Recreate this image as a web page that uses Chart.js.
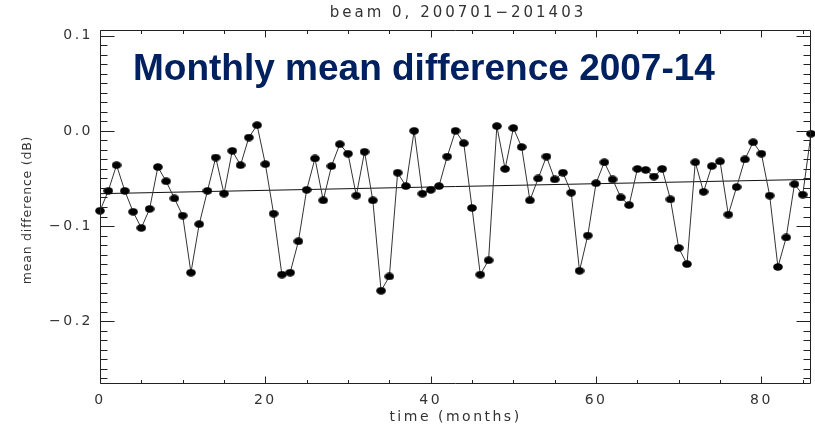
<!DOCTYPE html>
<html lang="en">
<head>
<meta charset="UTF-8">
<title>beam 0, 200701-201403</title>
<script src="https://cdn.jsdelivr.net/npm/chart.js"></script>
<style>
  html, body { margin: 0; padding: 0; background: #fff; }
  #chart { display: block; }
</style>
</head>
<body>
<canvas id="chart" width="815" height="428"></canvas>
<script>
// month index, 0 = January 2007, 86 = March 2014
const months = [
  0, 1, 2, 3, 4, 5, 6, 7, 8, 9, 10, 11, 12, 13, 14, 15, 16, 17, 18, 19,
  20, 21, 22, 23, 24, 25, 26, 27, 28, 29, 30, 31, 32, 33, 34, 35, 36, 37, 38, 39,
  40, 41, 42, 43, 44, 45, 46, 47, 48, 49, 50, 51, 52, 53, 54, 55, 56, 57, 58, 59,
  60, 61, 62, 63, 64, 65, 66, 67, 68, 69, 70, 71, 72, 73, 74, 75, 76, 77, 78, 79,
  80, 81, 82, 83, 84, 85, 86
];

// monthly mean difference (dB)
const meanDiff = [
  -0.084, -0.063, -0.036, -0.063, -0.085, -0.102, -0.082, -0.038, -0.053, -0.071,
  -0.089, -0.149, -0.098, -0.063, -0.028, -0.066, -0.021, -0.036, -0.007,  0.006,
  -0.035, -0.087, -0.151, -0.149, -0.116, -0.062, -0.029, -0.073, -0.037, -0.014,
  -0.024, -0.068, -0.022, -0.073, -0.168, -0.153, -0.044, -0.058,  0.000, -0.066,
  -0.062, -0.058, -0.027,  0.000, -0.013, -0.081, -0.151, -0.136,  0.005, -0.040,
   0.003, -0.017, -0.073, -0.050, -0.027, -0.051, -0.044, -0.065, -0.147, -0.110,
  -0.055, -0.033, -0.051, -0.070, -0.078, -0.040, -0.041, -0.048, -0.040, -0.072,
  -0.123, -0.140, -0.033, -0.064, -0.037, -0.032, -0.088, -0.059, -0.030, -0.012,
  -0.024, -0.068, -0.143, -0.112, -0.056, -0.067, -0.003
];

// linear trend, end points
const trendMonths = [0, 86];
const trendValues = [-0.066, -0.051];

const xTicks = [0, 20, 40, 60, 80];
const yTicks = [-0.2, -0.1, 0.0, 0.1];
const yTickLabels = ['\u22120.2', '\u22120.1', '0.0', '0.1'];

const FONT = 'DejaVu Sans';
const INK = '#333';

// filled ellipse marker, a bit wider than tall
const dot = document.createElement('canvas');
dot.width = 10;
dot.height = 8;
const dctx = dot.getContext('2d');
dctx.fillStyle = '#000';
dctx.beginPath();
dctx.ellipse(5, 4, 4.8, 3.8, 0, 0, Math.PI * 2);
dctx.fill();

// box frame with inward ticks on all four sides, plus the free text
const idlFrame = {
  id: 'idlFrame',
  beforeUpdate(chart) { chart.ctx.letterSpacing = '2.5px'; },
  beforeDraw(chart) { chart.ctx.letterSpacing = '2.5px'; },
  afterDraw(chart) {
    const { ctx, chartArea: a, scales: { x, y } } = chart;
    ctx.save();
    ctx.strokeStyle = '#222';
    ctx.lineWidth = 1;
    const L = a.left + 0.5, R = a.right - 0.5, T = a.top + 0.5, B = a.bottom - 0.5;
    ctx.beginPath();
    ctx.rect(L, T, R - L, B - T);
    for (let m = 0; m <= 86; m += 5) {
      const px = Math.round(x.getPixelForValue(m)) + 0.5;
      const len = m % 20 === 0 ? 7 : 3.5;
      ctx.moveTo(px, B); ctx.lineTo(px, B - len);
      ctx.moveTo(px, T); ctx.lineTo(px, T + len);
    }
    for (let i = -26; i <= 10; i++) {
      const py = Math.round(y.getPixelForValue(i / 100)) + 0.5;
      const len = i % 10 === 0 ? 14 : 7;
      ctx.moveTo(L, py); ctx.lineTo(L + len, py);
      ctx.moveTo(R, py); ctx.lineTo(R - len, py);
    }
    ctx.stroke();

    ctx.fillStyle = INK;
    ctx.textAlign = 'center';
    ctx.textBaseline = 'middle';

    ctx.letterSpacing = '3px';
    ctx.font = '15px "' + FONT + '"';
    ctx.fillText('beam 0, 200701\u2212201403', 458, 13);

    ctx.letterSpacing = '0.8px';
    ctx.font = '12.5px "' + FONT + '"';
    ctx.save();
    ctx.translate(28, 210);
    ctx.rotate(-Math.PI / 2);
    ctx.fillText('mean difference (dB)', 0, 0);
    ctx.restore();

    ctx.letterSpacing = '0px';
    ctx.textAlign = 'left';
    ctx.textBaseline = 'alphabetic';
    ctx.fillStyle = '#002060';
    ctx.font = 'bold 37px "Liberation Sans"';
    ctx.fillText('Monthly mean difference 2007-14', 133, 80);
    ctx.restore();
  }
};

const ctx = document.getElementById('chart').getContext('2d');
const chart = new Chart(ctx, {
  type: 'line',
  data: {
    datasets: [
      {
        label: 'mean difference',
        data: months.map((m, i) => ({ x: m, y: meanDiff[i] })),
        borderColor: '#333',
        borderWidth: 1,
        pointStyle: dot,
        pointRadius: 4,
        pointBackgroundColor: '#000',
        pointBorderWidth: 0,
        tension: 0,
        clip: false,
        order: 1
      },
      {
        label: 'trend',
        data: trendMonths.map((m, i) => ({ x: m, y: trendValues[i] })),
        borderColor: '#111',
        borderWidth: 1,
        pointRadius: 0,
        order: 2
      }
    ]
  },
  options: {
    responsive: false,
    animation: false,
    devicePixelRatio: 1,
    layout: { padding: { top: 30, right: 1, left: 0, bottom: 0 } },
    plugins: {
      legend: { display: false },
      tooltip: { enabled: false },
      title: { display: false }
    },
    scales: {
      x: {
        type: 'linear',
        min: 0,
        max: 86,
        grid: { display: false, drawTicks: false },
        border: { display: false },
        afterBuildTicks: s => { s.ticks = xTicks.map(v => ({ value: v })); },
        afterFit: s => { s.height = 44; },
        ticks: {
          font: { family: FONT, size: 14 },
          color: INK,
          padding: 8,
          maxRotation: 0,
          autoSkip: false
        },
        title: {
          display: true,
          text: 'time (months)',
          font: { family: FONT, size: 14 },
          color: INK,
          padding: { top: 0, bottom: 2 }
        }
      },
      y: {
        min: -0.266,
        max: 0.106,
        grid: { display: false, drawTicks: false },
        border: { display: false },
        afterBuildTicks: s => { s.ticks = yTicks.map(v => ({ value: v })); },
        afterFit: s => { s.width = 100; },
        ticks: {
          font: { family: FONT, size: 14 },
          color: INK,
          padding: 7,
          autoSkip: false,
          callback: (v, i) => yTickLabels[i]
        }
      }
    }
  },
  plugins: [idlFrame]
});
</script>
</body>
</html>
